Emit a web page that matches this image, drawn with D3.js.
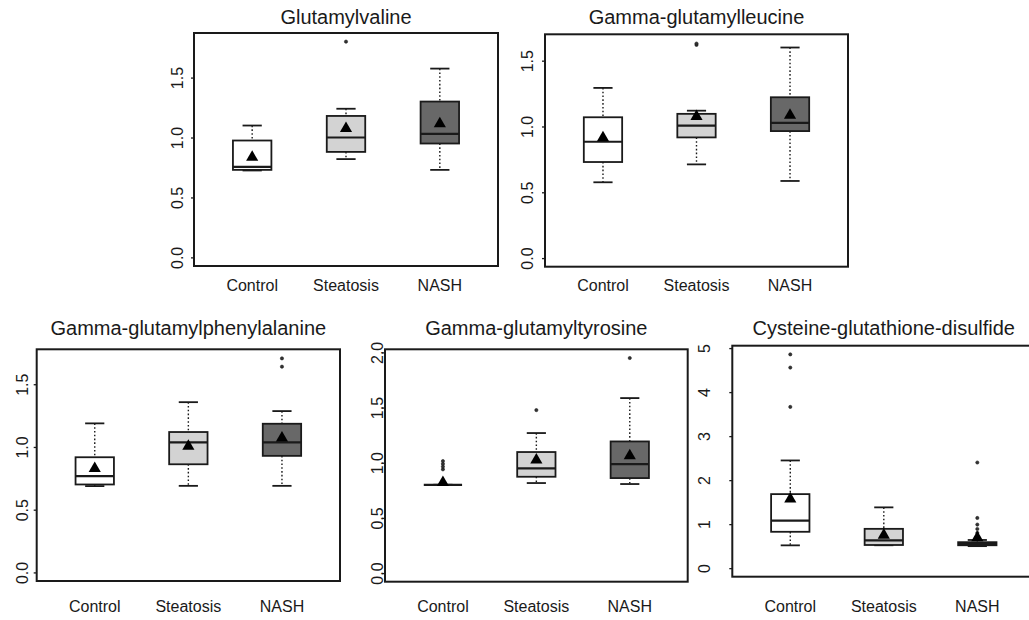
<!DOCTYPE html>
<html>
<head>
<meta charset="utf-8">
<script src="https://cdn.jsdelivr.net/npm/d3@7"></script>
<style>
  html, body { margin: 0; padding: 0; background: #ffffff; }
  svg { display: block; font-family: "Liberation Sans", Arial, Helvetica, sans-serif; }
</style>
</head>
<body>
<script>
// ---------------- DATA ----------------
const categories = ["Control", "Steatosis", "NASH"];
const titles = [
  "Glutamylvaline",
  "Gamma-glutamylleucine",
  "Gamma-glutamylphenylalanine",
  "Gamma-glutamyltyrosine",
  "Cysteine-glutathione-disulfide"
];
// upper limit of each panel's y range (R adds 4% either side of [0, yMax])
const yMax = [1.80, 1.635, 1.71, 1.95, 4.86];
const yTicks = [
  [0, 0.5, 1.0, 1.5],
  [0, 0.5, 1.0, 1.5],
  [0, 0.5, 1.0, 1.5],
  [0, 0.5, 1.0, 1.5, 2.0],
  [0, 1, 2, 3, 4, 5]
];
const tickDecimals = [1, 1, 1, 1, 0];
// per panel: [Control, Steatosis, NASH]
const whiskerLow = [
  [0.725, 0.82, 0.73],
  [0.576, 0.712, 0.586],
  [0.688, 0.69, 0.69],
  [0.80, 0.816, 0.807],
  [0.518, 0.52, 0.50]
];
const q1 = [
  [0.73, 0.88, 0.95],
  [0.73, 0.917, 0.965],
  [0.701, 0.862, 0.929],
  [0.80, 0.873, 0.861],
  [0.826, 0.526, 0.52]
];
const medians = [
  [0.755, 1.0, 1.03],
  [0.884, 1.007, 1.028],
  [0.767, 1.037, 1.037],
  [0.80, 0.949, 0.988],
  [1.081, 0.631, 0.55]
];
const q3 = [
  [0.975, 1.18, 1.30],
  [1.07, 1.096, 1.222],
  [0.918, 1.119, 1.185],
  [0.80, 1.097, 1.193],
  [1.682, 0.893, 0.59]
];
const whiskerHigh = [
  [1.10, 1.24, 1.575],
  [1.293, 1.12, 1.60],
  [1.188, 1.357, 1.286],
  [0.80, 1.269, 1.586],
  [2.447, 1.381, 0.64]
];
const means = [
  [0.835, 1.075, 1.115],
  [0.914, 1.075, 1.086],
  [0.828, 1.005, 1.071],
  [0.82, 1.024, 1.063],
  [1.569, 0.75, 0.69]
];
const outliers = [
  [[], [1.80], []],
  [[], [1.62, 1.63], []],
  [[], [], [1.64, 1.706]],
  [[0.94, 0.965, 0.99, 1.015], [1.477], [1.949]],
  [[3.664, 4.557, 4.857], [], [0.80, 0.89, 0.99, 1.14, 2.40]]
];
const boxFills = ["#ffffff", "#d3d3d3", "#686868"];

// ---------------- LAYOUT ----------------
const panels = [
  { left: 194,   top: 33,    w: 304, h: 233, labelGap: 11,  xLabelY: 291,   titleY: 24 },
  { left: 545,   top: 34.3,  w: 303, h: 232.4, labelGap: 11.7, xLabelY: 291, titleY: 24 },
  { left: 36.7,  top: 349.3, w: 303.3, h: 231.7, labelGap: 8.4, xLabelY: 611.7, titleY: 335 },
  { left: 385,   top: 349.3, w: 302.7, h: 232.4, labelGap: 1.8, xLabelY: 611.7, titleY: 335 },
  { left: 732.3, top: 345.7, w: 303, h: 231, labelGap: 22,  xLabelY: 611.7, titleY: 335 }
];

const W = 1029, H = 620;
const svg = d3.select("body").append("svg")
  .attr("width", W).attr("height", H)
  .attr("viewBox", `0 0 ${W} ${H}`);
svg.append("rect").attr("width", W).attr("height", H).attr("fill", "#fff");

const ink = "#1a1a1a";

panels.forEach((p, i) => {
  const g = svg.append("g");
  const y = d3.scaleLinear()
    .domain([-0.04 * yMax[i], 1.04 * yMax[i]])
    .range([p.top + p.h, p.top]);
  const x = d3.scalePoint()
    .domain(categories)
    .range([p.left, p.left + p.w])
    .padding(0.62);
  const bw = x.step() * 0.41;
  const cap = bw / 2;

  // y axis with rotated labels
  const ax = g.append("g")
    .attr("transform", `translate(${p.left},0)`)
    .call(d3.axisLeft(y).tickValues(yTicks[i]).tickSize(3)
      .tickFormat(d3.format(`.${tickDecimals[i]}f`)));
  ax.attr("font-size", 16).attr("font-family", "Liberation Sans, Arial, sans-serif");
  ax.select(".domain").remove();
  ax.selectAll(".tick line").attr("stroke", ink).attr("stroke-width", 1.3);
  ax.selectAll(".tick text")
    .attr("x", 0).attr("dy", 0)
    .attr("text-anchor", "middle")
    .attr("font-size", 16)
    .attr("fill", ink)
    .attr("transform", `translate(${-p.labelGap},0) rotate(-90)`);

  // x axis labels
  g.append("g").selectAll("text").data(categories).join("text")
    .attr("x", d => x(d)).attr("y", p.xLabelY)
    .attr("text-anchor", "middle")
    .attr("font-size", 16)
    .attr("fill", ink)
    .text(d => d);

  // title
  g.append("text")
    .attr("x", p.left + p.w / 2).attr("y", p.titleY)
    .attr("text-anchor", "middle")
    .attr("font-size", 20)
    .attr("fill", ink)
    .text(titles[i]);

  // boxes
  categories.forEach((c, j) => {
    const cx = x(c);
    const bg = g.append("g");
    // whiskers (dotted)
    bg.append("line")
      .attr("x1", cx).attr("x2", cx)
      .attr("y1", y(whiskerHigh[i][j])).attr("y2", y(q3[i][j]))
      .attr("stroke", ink).attr("stroke-width", 1.4).attr("stroke-dasharray", "1.6,2.2");
    bg.append("line")
      .attr("x1", cx).attr("x2", cx)
      .attr("y1", y(q1[i][j])).attr("y2", y(whiskerLow[i][j]))
      .attr("stroke", ink).attr("stroke-width", 1.4).attr("stroke-dasharray", "1.6,2.2");
    // caps
    [whiskerHigh[i][j], whiskerLow[i][j]].forEach(v => {
      bg.append("line")
        .attr("x1", cx - cap / 2).attr("x2", cx + cap / 2)
        .attr("y1", y(v)).attr("y2", y(v))
        .attr("stroke", ink).attr("stroke-width", 1.8);
    });
    // box
    bg.append("rect")
      .attr("x", cx - bw / 2).attr("width", bw)
      .attr("y", y(q3[i][j]))
      .attr("height", Math.max(0, y(q1[i][j]) - y(q3[i][j])))
      .attr("fill", boxFills[j])
      .attr("stroke", ink).attr("stroke-width", 1.8);
    // median
    bg.append("line")
      .attr("x1", cx - bw / 2).attr("x2", cx + bw / 2)
      .attr("y1", y(medians[i][j])).attr("y2", y(medians[i][j]))
      .attr("stroke", ink).attr("stroke-width", 2.2);
    // outliers
    bg.selectAll("circle").data(outliers[i][j]).join("circle")
      .attr("cx", cx).attr("cy", d => y(d))
      .attr("r", 1.6)
      .attr("fill", "#333").attr("stroke", ink).attr("stroke-width", 0.6);
    // mean triangle
    bg.append("path")
      .attr("d", d3.symbol().type(d3.symbolTriangle).size(64)())
      .attr("transform", `translate(${cx},${y(means[i][j])})`)
      .attr("fill", "#000");
  });

  // frame
  g.append("rect")
    .attr("x", p.left).attr("y", p.top)
    .attr("width", p.w).attr("height", p.h)
    .attr("fill", "none")
    .attr("stroke", ink).attr("stroke-width", 2);
});
</script>
</body>
</html>
